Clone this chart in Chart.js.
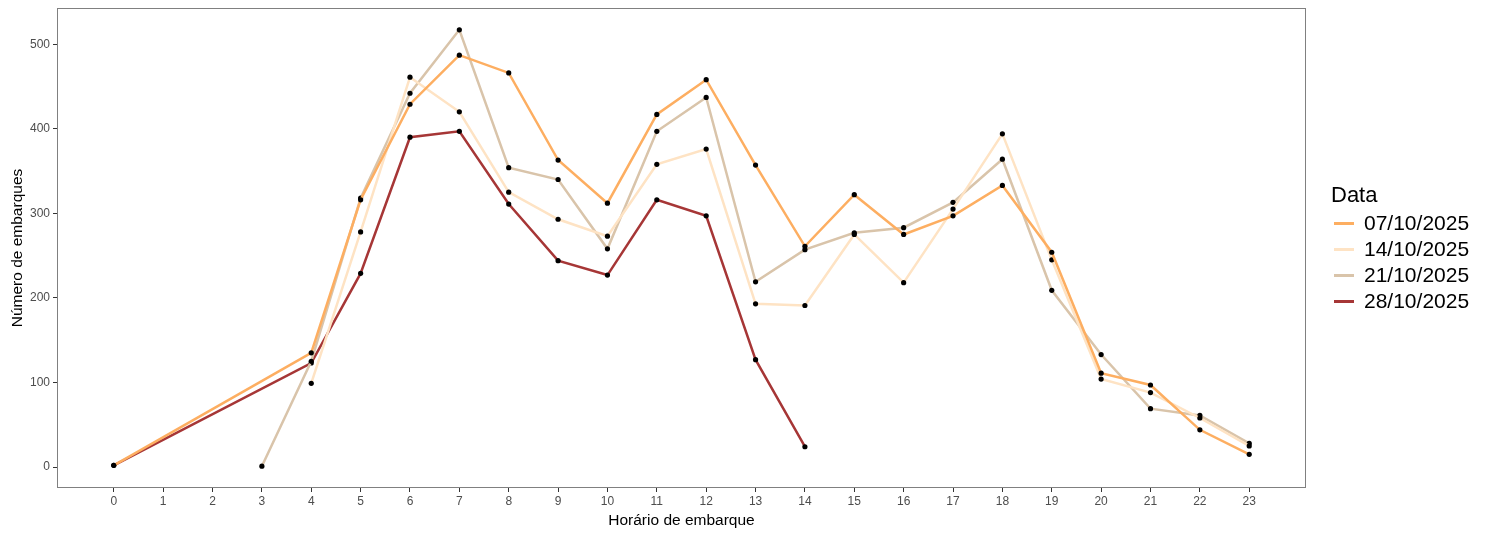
<!DOCTYPE html>
<html>
<head>
<meta charset="utf-8">
<script src="https://cdn.jsdelivr.net/npm/chart.js@4"></script>
<style>
  body { margin: 0; background: #fff; font-family: "Liberation Sans", Arial, sans-serif; }
  .grafico-wrapper { position: relative; width: 1500px; height: 536px; }
  .grafico-legenda { position: absolute; left: 1331px; top: 180px; color: #000; }
  .legenda-titulo { font-size: 22px; line-height: 30px; margin-bottom: 0px; }
  .legenda-item { font-size: 21px; line-height: 26px; display: flex; align-items: center; }
  .legenda-cor { display: inline-block; width: 20px; height: 3px; margin: 0 10px 0 3px; }
</style>
</head>
<body>
<div class="grafico-wrapper">
  <canvas id="grafico-embarques" width="1500" height="536"></canvas>
</div>
<script>
const horas = [0, 1, 2, 3, 4, 5, 6, 7, 8, 9, 10, 11, 12, 13, 14, 15, 16, 17, 18, 19, 20, 21, 22, 23];
const datas = ["07/10/2025", "14/10/2025", "21/10/2025", "28/10/2025"];
const cores = ["#FDAE61", "#FEE3C4", "#D9C4AA", "#A63636"];

const embarques0710 = [2, null, null, null, 135, 316, 429, 487, 466, 363, 312, 417, 458, 357, 261, 322, 275, 297, 333, 254, 111, 97, 44, 15];
const embarques1410 = [null, null, null, null, 99, 278, 461, 420, 325, 293, 273, 358, 376, 193, 191, 275, 218, 305, 394, 245, 104, 88, 58, 25];
const embarques2110 = [null, null, null, 1, 125, 318, 442, 517, 354, 340, 258, 397, 437, 219, 257, 277, 283, 313, 364, 209, 133, 69, 61, 28];
const embarques2810 = [2, null, null, null, 123, 229, 390, 397, 311, 244, 227, 316, 297, 127, 24, null, null, null, null, null, null, null, null, null];

const series = [embarques0710, embarques1410, embarques2110, embarques2810];
const yTicks = [0, 100, 200, 300, 400, 500];

// moldura do painel (estilo ggplot)
const bordaPainel = {
  id: "bordaPainel",
  afterDraw(chart) {
    const { ctx, chartArea: { left, top, width, height } } = chart;
    ctx.save();
    ctx.strokeStyle = "#808080";
    ctx.lineWidth = 1;
    ctx.strokeRect(left + 0.5, top + 0.5, width - 1, height - 1);
    ctx.restore();
  },
};

const datasets = series.map((valores, i) => ({
  label: datas[i],
  data: valores,
  borderColor: cores[i],
  backgroundColor: "#000",
  pointBackgroundColor: "#000",
  pointBorderColor: "#000",
  pointRadius: 2.6,
  pointBorderWidth: 0,
  borderWidth: 2.5,
  spanGaps: true,
  tension: 0,
}));

new Chart(document.getElementById("grafico-embarques").getContext("2d"), {
  type: "line",
  plugins: [bordaPainel],
  data: { labels: horas, datasets },
  options: {
    responsive: false,
    animation: false,
    layout: { padding: { top: 8, right: 194, left: 0, bottom: 0 } },
    plugins: { legend: { display: false }, tooltip: { enabled: false } },
    scales: {
      x: {
        type: "linear",
        min: -1.15,
        max: 24.15,
        afterBuildTicks: (scale) => { scale.ticks = horas.map((h) => ({ value: h })); },
        afterFit: (scale) => { scale.height = 48; scale.paddingLeft = 0; scale.paddingRight = 0; },
        grid: { drawOnChartArea: false, drawTicks: true, tickLength: 4, color: "#333" },
        border: { display: false },
        ticks: { color: "#4d4d4d", font: { family: "Liberation Sans", size: 12 }, padding: 2, maxRotation: 0, autoSkip: false },
        title: { display: true, text: "Horário de embarque", color: "#000", font: { family: "Liberation Sans", size: 15.5 }, padding: { top: 0, bottom: 6 } },
      },
      y: {
        min: -24.8,
        max: 542.8,
        afterBuildTicks: (scale) => { scale.ticks = yTicks.map((v) => ({ value: v })); },
        afterFit: (scale) => { scale.width = 57; scale.paddingTop = 0; scale.paddingBottom = 0; },
        grid: { drawOnChartArea: false, drawTicks: true, tickLength: 4, color: "#333" },
        border: { display: false },
        ticks: { color: "#4d4d4d", font: { family: "Liberation Sans", size: 12 }, padding: 3 },
        title: { display: true, text: "Número de embarques", color: "#000", font: { family: "Liberation Sans", size: 15.5 }, padding: { top: 8, bottom: 0 } },
      },
    },
  },
});

// legenda customizada
const wrapper = document.querySelector(".grafico-wrapper");
const legenda = document.createElement("div");
legenda.className = "grafico-legenda";
legenda.innerHTML = `<div class="legenda-titulo">Data</div>`;
datas.forEach((label, i) => {
  const item = document.createElement("div");
  item.className = "legenda-item";
  item.innerHTML = `<span class="legenda-cor" style="background:${cores[i]}"></span>${label}`;
  legenda.appendChild(item);
});
wrapper.appendChild(legenda);
</script>
</body>
</html>
